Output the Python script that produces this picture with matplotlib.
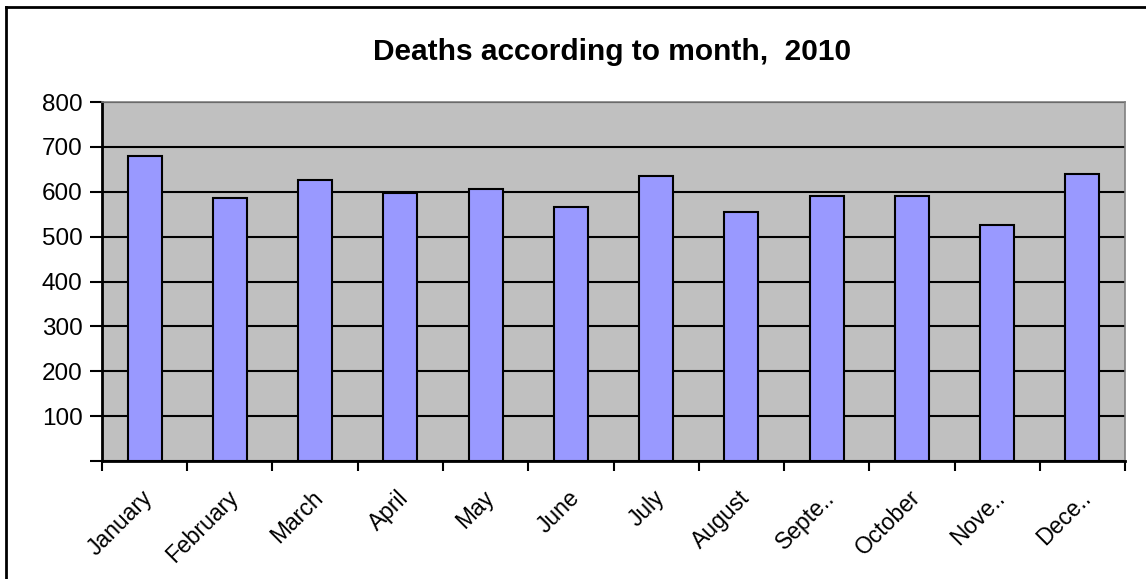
import numpy as np
import matplotlib
matplotlib.use("Agg")
import matplotlib.pyplot as plt
from matplotlib.lines import Line2D

plt.rcParams['font.family'] = ['Liberation Sans', 'DejaVu Sans']

# data
months = ["January", "February", "March", "April", "May", "June",
          "July", "August", "Septe..", "October", "Nove..", "Dece.."]
deaths = [679, 586, 626, 598, 607, 567, 635, 554, 590, 590, 527, 639]
yticks = [100, 200, 300, 400, 500, 600, 700, 800]

fig = plt.figure(figsize=(11.46, 5.79), dpi=100)
ax = fig.add_axes([0.089, 0.2038, 0.8927, 0.62])
ax.set_facecolor("#c0c0c0")

x = np.arange(len(months))
ax.bar(x, deaths, width=0.4, color="#9999ff", edgecolor="black",
       linewidth=1.5, zorder=3)

ax.set_xlim(-0.5, len(months) - 0.5)
ax.set_ylim(0, 800)

# gridlines
ax.set_yticks([0] + yticks)
ax.set_yticklabels([""] + [str(v) for v in yticks], fontsize=17.5)
ax.yaxis.grid(True, color="black", linewidth=1.5, zorder=1)
ax.set_axisbelow(True)
ax.tick_params(axis="y", direction="out", length=9, width=1.5, pad=5)

# category labels at centers, ticks at boundaries
ax.set_xticks(x - 0.04)
ax.set_xticklabels(months, rotation=45, ha="right", rotation_mode="anchor",
                   fontsize=16.5)
ax.tick_params(axis="x", which="major", length=0, pad=18)
ax.set_xticks(np.arange(-0.5, len(months)), minor=True)
ax.tick_params(axis="x", which="minor", direction="out", length=7, width=1.5)

for s in ["left", "bottom"]:
    ax.spines[s].set_linewidth(2)
    ax.spines[s].set_color("black")
for s in ["top", "right"]:
    ax.spines[s].set_linewidth(1.2)
    ax.spines[s].set_color("#808080")

fig.text(0.534, 0.91, "Deaths according to month,  2010", ha="center",
         va="center", fontsize=21.5, fontweight="bold")

# chart frame (only top and left visible in the crop)
fig.add_artist(Line2D([0.0052, 0.0052], [0, 0.9878], color="black", lw=2,
                      transform=fig.transFigure))
fig.add_artist(Line2D([0.0052, 1], [0.9878, 0.9878], color="black", lw=2,
                      transform=fig.transFigure))

fig.savefig("out.png", dpi=100)
